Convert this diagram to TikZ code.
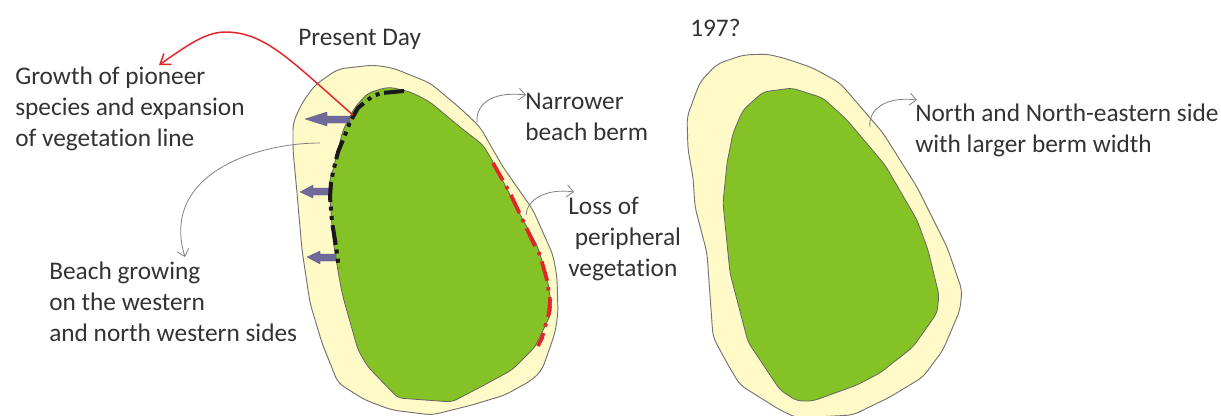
\documentclass[tikz,border=0pt]{standalone}
\usepackage{fontspec}
\setmainfont[Ligatures=NoCommon]{Carlito}
\usetikzlibrary{arrows.meta}
\definecolor{beach}{HTML}{FFFAC8}
\definecolor{veg}{HTML}{84C225}
\definecolor{txt}{HTML}{333333}
\definecolor{arrowfill}{HTML}{6F6A9A}
\definecolor{redline}{HTML}{E4232B}
\tikzset{
  beachshape/.style={draw=black!55,line width=0.7pt,fill=beach,rounded corners=5pt},
  vegshape/.style={draw=black!60,line width=0.6pt,fill=veg,rounded corners=4pt},
  lab/.style={font=\fontsize{19}{23.2}\selectfont,text=txt,align=left,anchor=west,inner sep=0pt},
  callout/.style={draw=black!50,line width=0.6pt,-{Straight Barb[length=5pt,width=9pt]}},
  redcall/.style={draw=redline,line width=1.1pt,-{Straight Barb[length=7pt,width=10pt]}},
  blockarrow/.style={fill=arrowfill,draw=arrowfill!80!black,line width=0.2pt},
  blackdash/.style={draw=black!90,line width=3pt,dash pattern=on 15pt off 3.5pt on 3pt off 4pt on 3pt off 4pt},
  reddash/.style={draw=redline,line width=2.8pt,dash pattern=on 15pt off 5pt on 2.5pt off 5pt}
}
\begin{document}
\begin{tikzpicture}[x=0.75pt,y=-0.75pt]
\useasboundingbox (0,0) rectangle (1221,415);
% left island
\path[beachshape] (373,65) -- (338,69) -- (315,85) -- (302,103) -- (293,123) -- (293,150) -- (297,193) -- (302,250) -- (310,303) -- (322,343) -- (338,383) -- (365,400) -- (392,410) -- (432,415) -- (472,405) -- (505,395) -- (532,380) -- (542,370) -- (555,333) -- (558,313) -- (557,277) -- (553,255) -- (533,210) -- (503,167) -- (480,127) -- (460,108) -- (430,83) -- (393,68) -- cycle;
\path[vegshape] (403,90) -- (388,87) -- (368,93) -- (355,107) -- (343,130) -- (333,170) -- (329,183) -- (330,197) -- (333,240) -- (339,277) -- (343,297) -- (358,350) -- (368,367) -- (398,398) -- (452,402) -- (488,383) -- (512,370) -- (535,347) -- (548,320) -- (552,310) -- (548,283) -- (545,270) -- (537,245) -- (523,220) -- (492,160) -- (483,145) -- (460,127) -- (430,102) -- (413,93) -- cycle;
% right island
\path[beachshape] (767,54) -- (743,55) -- (717,64) -- (700,82) -- (687,117) -- (688,150) -- (693,177) -- (695,207) -- (707,253) -- (713,337) -- (727,363) -- (740,385) -- (780,410) -- (797,418) -- (853,415) -- (890,397) -- (923,377) -- (943,350) -- (960,310) -- (962,290) -- (947,247) -- (917,187) -- (883,133) -- (840,83) -- (813,68) -- (787,59) -- cycle;
\path[vegshape] (792,88) -- (763,92) -- (743,110) -- (733,133) -- (727,163) -- (723,203) -- (730,273) -- (748,342) -- (780,390) -- (797,401) -- (813,401) -- (857,385) -- (880,373) -- (913,347) -- (937,313) -- (939,295) -- (928,250) -- (917,220) -- (885,165) -- (847,120) -- (823,98) -- cycle;
% block arrows
\path[blockarrow] (305,119) -- (327,112) -- (327,116) -- (350,116) -- (350,123) -- (327,123) -- (327,126) -- cycle;
\path[blockarrow] (300,192) -- (313,185) -- (313,188) -- (329,188) -- (329,195) -- (313,195) -- (313,198) -- cycle;
\path[blockarrow] (307,257) -- (320,251) -- (320,254) -- (336,254) -- (336,261) -- (320,261) -- (320,264) -- cycle;
% dashed shorelines
\draw[blackdash] (404,91) -- (382,93) -- (373,96) -- (365,102) -- (358,108) -- (350,122) -- (345,135) -- (338,152) -- (333,172) -- (331,183) -- (330,197) -- (332,222) -- (335,240) -- (339,268);
\draw[reddash] (493,163) -- (510,193) -- (533,242) -- (540,255) -- (547,280) -- (550,300) -- (549,313) -- (542,338) -- (538,346);
% labels
\node[lab] (present) at (298,39) {Present Day};
\node[lab] (year) at (690,28) {197?};
\node[lab] (growth) at (15,109) {Growth of pioneer\\species and expansion\\of vegetation line};
\node[lab] (beachgrow) at (49,302) {Beach growing\\on the western\\and north western sides};
\node[lab] (narrow) at (525,117) {Narrower\\beach berm};
\node[lab] (loss) at (568,239) {Loss of\\\hspace*{5pt}peripheral\\vegetation};
\node[lab] (north) at (915,130) {North and North-eastern side\\with larger berm width};
% connector ends
\coordinate (c1s) at (353,115);
\coordinate (c1e) at (159,65);
\coordinate (c2s) at (320,143);
\coordinate (c2e) at (185,257);
\coordinate (c3s) at (477,122);
\coordinate (c3e) at (526,95);
\coordinate (c4s) at (526,215);
\coordinate (c4e) at (574,192);
\coordinate (c5s) at (870,127);
\coordinate (c5e) at (917,100);
\draw[redcall] (c1s) .. controls (290,60) and (265,32) .. (225,32) .. controls (205,32) and (185,47) .. (c1e);
\draw[callout] (c2s) .. controls (255,143) and (160,175) .. (c2e);
\draw[callout] (c3s) .. controls (476,105) and (490,91) .. (c3e);
\draw[callout] (c4s) .. controls (527,200) and (545,188) .. (c4e);
\draw[callout] (c5s) .. controls (868,110) and (885,96) .. (c5e);
\end{tikzpicture}
\end{document}
